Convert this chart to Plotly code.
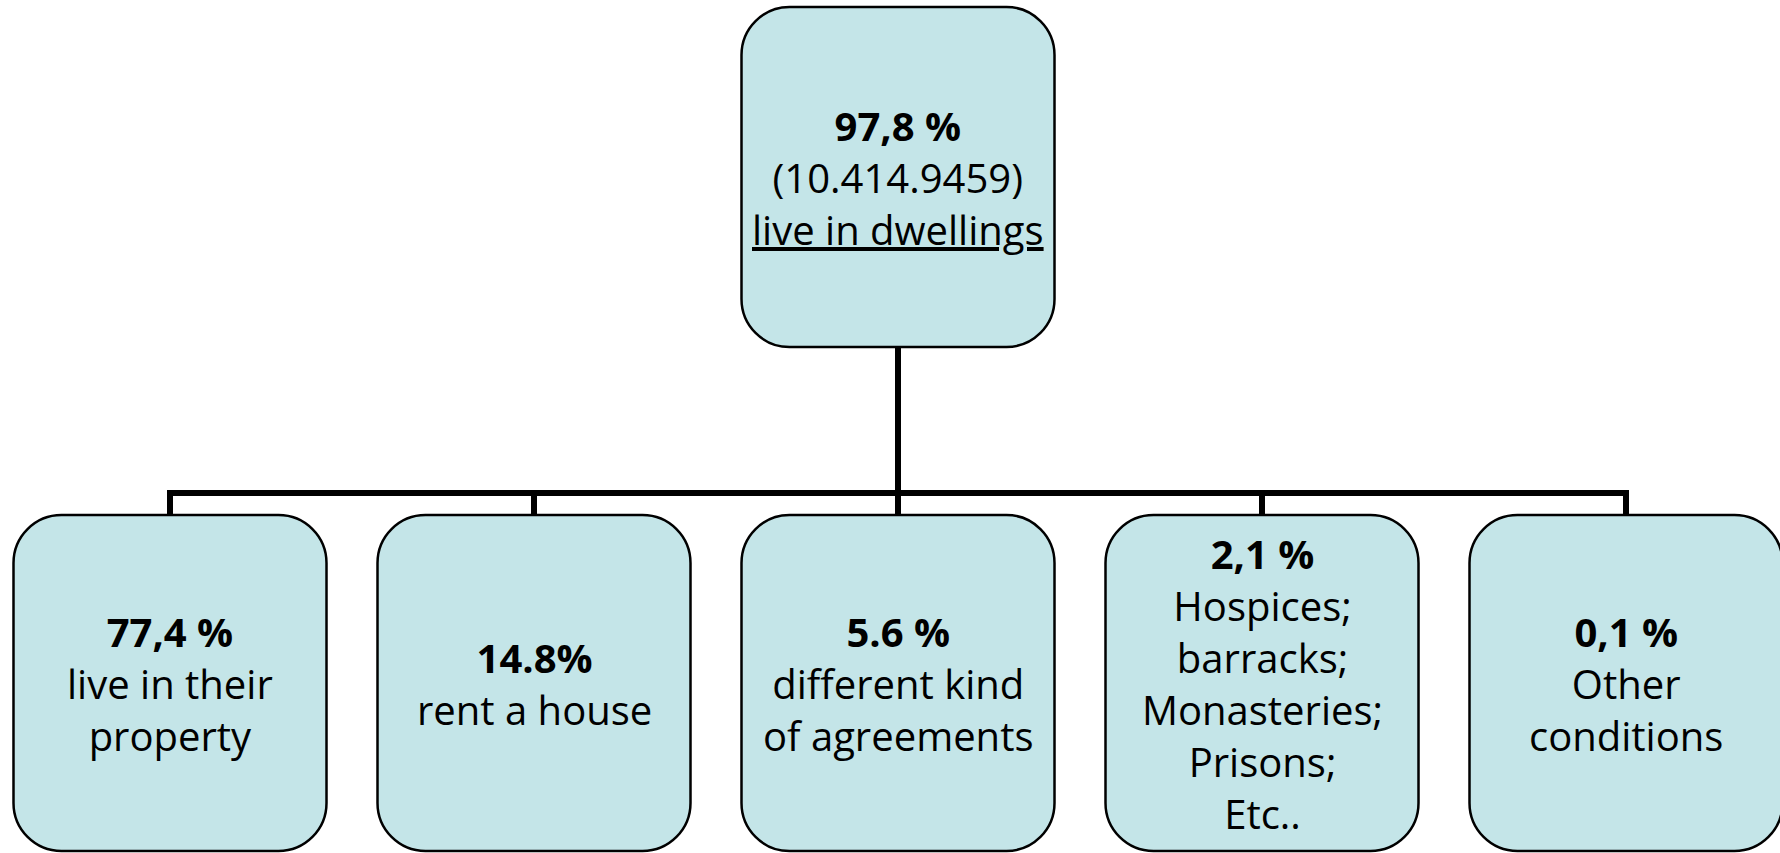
import plotly.graph_objects as go

# ---- data ----
root_share = "97,8 %"
root_count = "(10.414.9459)"
root_label = "live in dwellings"

child_shares = ["77,4 %", "14.8%", "5.6 %", "2,1 %", "0,1 %"]
child_labels = [
    ["live in their", "property"],
    ["rent a house"],
    ["different kind", "of agreements"],
    ["Hospices;", "barracks;", "Monasteries;", "Prisons;", "Etc.."],
    ["Other", "conditions"],
]

# ---- layout (pixel-like coordinates) ----
W, H = 1780, 853
first_cx, step = 170, 364
box_w = 313
radius = 48
root_top, root_bot = 7, 347
child_top, child_bot = 515, 851
bar_y = 493
fill = "#c4e5e8"
font_family = "Open Sans, Lato, sans-serif"
fsize = 40
lw = 6

child_cx = [first_cx + i * step for i in range(len(child_shares))]
root_cx = child_cx[len(child_cx) // 2]


def rounded_rect(x0, y0, x1, y1, r):
    k = 0.5523 * r
    return (
        f"M {x0 + r},{y0} L {x1 - r},{y0} "
        f"C {x1 - r + k},{y0} {x1},{y0 + r - k} {x1},{y0 + r} "
        f"L {x1},{y1 - r} "
        f"C {x1},{y1 - r + k} {x1 - r + k},{y1} {x1 - r},{y1} "
        f"L {x0 + r},{y1} "
        f"C {x0 + r - k},{y1} {x0},{y1 - r + k} {x0},{y1 - r} "
        f"L {x0},{y0 + r} "
        f"C {x0},{y0 + r - k} {x0 + r - k},{y0} {x0 + r},{y0} Z"
    )


shapes = []
annotations = []

# connectors
line_style = dict(color="black", width=lw)
shapes.append(dict(type="line", x0=root_cx, x1=root_cx, y0=root_bot, y1=bar_y,
                   xref="x", yref="y", line=line_style, layer="below"))
shapes.append(dict(type="line", x0=child_cx[0] - lw / 2, x1=child_cx[-1] + lw / 2, y0=bar_y, y1=bar_y,
                   xref="x", yref="y", line=line_style, layer="below"))
for cx in child_cx:
    shapes.append(dict(type="line", x0=cx, x1=cx, y0=bar_y - lw / 2, y1=child_top,
                       xref="x", yref="y", line=line_style, layer="below"))

# root box
shapes.append(dict(type="path",
                   path=rounded_rect(root_cx - box_w / 2, root_top, root_cx + box_w / 2, root_bot, radius),
                   xref="x", yref="y", fillcolor=fill, line=dict(color="black", width=2.5)))
annotations.append(dict(
    x=root_cx, y=(root_top + root_bot) / 2, xref="x", yref="y",
    text=f"<b>{root_share}</b><br>{root_count}<br><u>{root_label}</u>",
    showarrow=False, xanchor="center", yanchor="middle", align="center",
    font=dict(family=font_family, size=fsize, color="black")))

# child boxes
for cx, share, lab in zip(child_cx, child_shares, child_labels):
    shapes.append(dict(type="path",
                       path=rounded_rect(cx - box_w / 2, child_top, cx + box_w / 2, child_bot, radius),
                       xref="x", yref="y", fillcolor=fill, line=dict(color="black", width=2.5)))
    annotations.append(dict(
        x=cx, y=(child_top + child_bot) / 2, xref="x", yref="y",
        text="<b>" + share + "</b><br>" + "<br>".join(lab),
        showarrow=False, xanchor="center", yanchor="middle", align="center",
        font=dict(family=font_family, size=fsize, color="black")))

fig = go.Figure()
fig.update_layout(
    width=W, height=H,
    margin=dict(l=0, r=0, t=0, b=0),
    paper_bgcolor="white", plot_bgcolor="white",
    xaxis=dict(range=[0, W], visible=False, fixedrange=True),
    yaxis=dict(range=[H, 0], visible=False, fixedrange=True),
    shapes=shapes, annotations=annotations,
    showlegend=False,
)

fig.write_html("out.html", config={"displayModeBar": False},
               post_script="document.body.style.margin='0';document.body.style.overflow='hidden';")
